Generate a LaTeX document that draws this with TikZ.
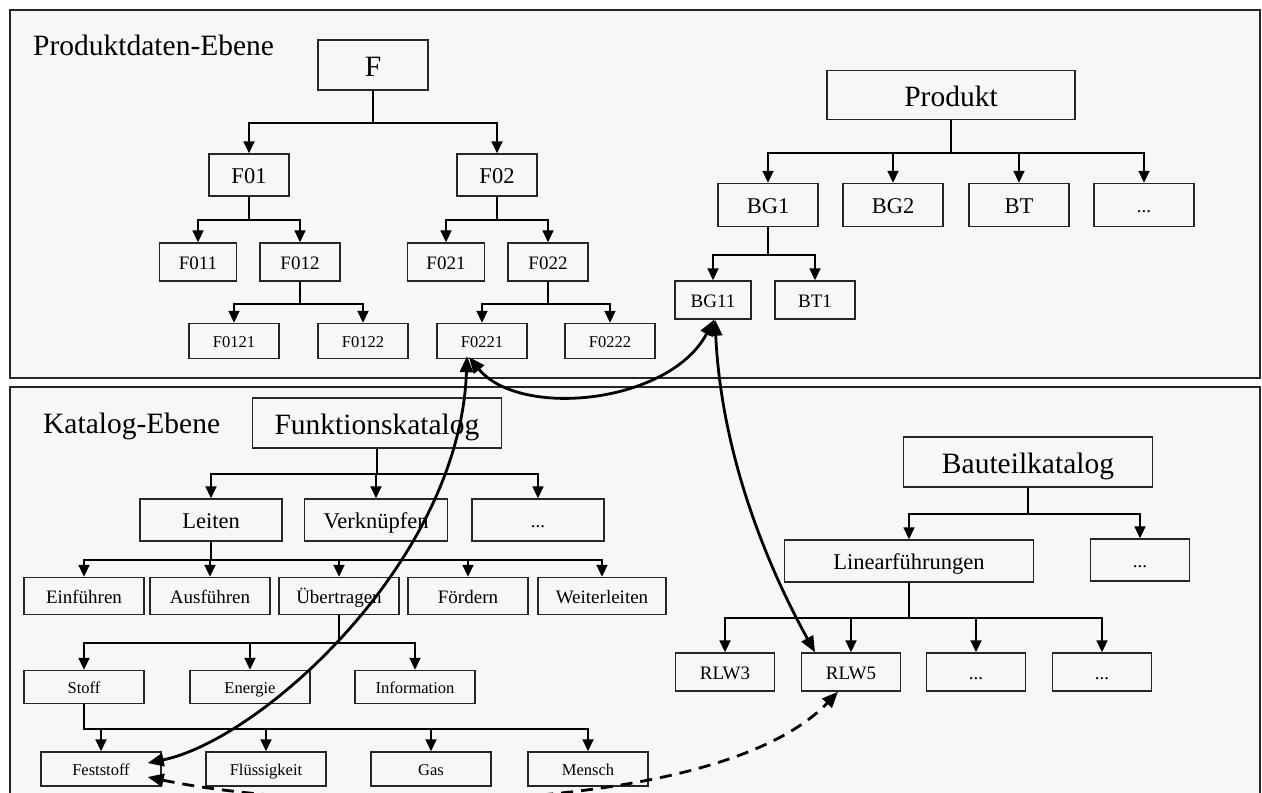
\documentclass[tikz,border=0pt]{standalone}
\usepackage{fontspec}
\setmainfont{Liberation Serif}
\usetikzlibrary{arrows.meta}
\definecolor{panelbg}{RGB}{247,247,247}
\begin{document}
\begin{tikzpicture}[x=1pt,y=-1pt,
  box/.style={draw=black!85,line width=1.4pt,fill=panelbg,inner sep=0pt},
  fa/.style={font=\fontsize{29.5}{33}\selectfont,text height=23pt,text depth=0pt},
  fb/.style={font=\fontsize{22.5}{26}\selectfont,text height=17.5pt,text depth=0pt},
  fc/.style={font=\fontsize{19}{22}\selectfont,text height=14.5pt,text depth=0pt},
  fd/.style={font=\fontsize{16.5}{19}\selectfont,text height=12pt,text depth=0pt},
  tree/.style={line width=1.8pt,-{Triangle[length=12pt,width=11pt]}},
  link/.style={line width=2.8pt,{Triangle[length=16pt,width=13pt]}-{Triangle[length=16pt,width=13pt]}}]
\useasboundingbox (0,0) rectangle (1262,793);
\clip (0,0) rectangle (1262,793);
% the two levels
\draw[black!85,line width=1.8pt,fill=panelbg] (10,10) rectangle (1260,378);
\draw[black!85,line width=1.8pt,fill=panelbg] (10,387) rectangle (1260,820);
\node[font=\fontsize{29.5}{33}\selectfont,anchor=base west,inner sep=0pt] (produktlabel) at (33,55) {Produktdaten-Ebene};
\node[font=\fontsize{29.5}{33}\selectfont,anchor=base west,inner sep=0pt] (kataloglabel) at (43,433) {Katalog-Ebene};
% functions of the product
\node[box,fa,minimum width=110pt,minimum height=50pt] (F) at (373,65) {F};
\node[box,fb,minimum width=80pt,minimum height=42pt] (F01) at (249,175) {F01};
\node[box,fb,minimum width=80pt,minimum height=42pt] (F02) at (497,175) {F02};
\node[box,fc,minimum width=77pt,minimum height=38pt] (F011) at (198,262) {F011};
\node[box,fc,minimum width=80pt,minimum height=38pt] (F012) at (300,262) {F012};
\node[box,fc,minimum width=77pt,minimum height=38pt] (F021) at (446,262) {F021};
\node[box,fc,minimum width=80pt,minimum height=38pt] (F022) at (548,262) {F022};
\node[box,fd,minimum width=90pt,minimum height=35pt] (F0121) at (234,341) {F0121};
\node[box,fd,minimum width=90pt,minimum height=35pt] (F0122) at (363,341) {F0122};
\node[box,fd,minimum width=90pt,minimum height=35pt] (F0221) at (482,341) {F0221};
\node[box,fd,minimum width=90pt,minimum height=35pt] (F0222) at (610,341) {F0222};
\draw[tree] (F.south) -- ++(0,32) -| (F01.north);
\draw[tree] (F.south) -- ++(0,32) -| (F02.north);
\draw[tree] (F01.south) -- ++(0,23) -| (F011.north);
\draw[tree] (F01.south) -- ++(0,23) -| (F012.north);
\draw[tree] (F02.south) -- ++(0,23) -| (F021.north);
\draw[tree] (F02.south) -- ++(0,23) -| (F022.north);
\draw[tree] (F012.south) -- ++(0,22) -| (F0121.north);
\draw[tree] (F012.south) -- ++(0,22) -| (F0122.north);
\draw[tree] (F022.south) -- ++(0,22) -| (F0221.north);
\draw[tree] (F022.south) -- ++(0,22) -| (F0222.north);
% structure of the product
\node[box,fa,minimum width=248pt,minimum height=49pt] (produkt) at (951,95) {Produkt};
\node[box,fb,minimum width=100pt,minimum height=43pt] (BG1) at (768,205) {BG1};
\node[box,fb,minimum width=100pt,minimum height=43pt] (BG2) at (893,205) {BG2};
\node[box,fb,minimum width=100pt,minimum height=43pt] (BT) at (1019,205) {BT};
\node[box,fc,minimum width=100pt,minimum height=43pt] (pdots) at (1144,205) {...};
\node[box,fc,minimum width=76pt,minimum height=38pt] (BG11) at (713,300) {BG11};
\node[box,fc,minimum width=80pt,minimum height=38pt] (BT1) at (815,300) {BT1};
\draw[tree] (produkt.south) -- ++(0,33) -| (BG1.north);
\draw[tree] (produkt.south) -- ++(0,33) -| (BG2.north);
\draw[tree] (produkt.south) -- ++(0,33) -| (BT.north);
\draw[tree] (produkt.south) -- ++(0,33) -| (pdots.north);
\draw[tree] (BG1.south) -- ++(0,28) -| (BG11.north);
\draw[tree] (BG1.south) -- ++(0,28) -| (BT1.north);
% function catalogue
\node[box,fa,minimum width=249pt,minimum height=50pt] (fkatalog) at (377,423) {Funktionskatalog};
\node[box,fb,minimum width=142pt,minimum height=42pt] (leiten) at (211,520) {Leiten};
\node[box,fb,minimum width=143pt,minimum height=42pt] (verknuepfen) at (376,520) {Verknüpfen};
\node[box,fc,minimum width=132pt,minimum height=42pt] (fdots) at (538,520) {...};
\node[box,fc,minimum width=120pt,minimum height=37pt] (einfuehren) at (84,596) {Einführen};
\node[box,fc,minimum width=120pt,minimum height=37pt] (ausfuehren) at (210,596) {Ausführen};
\node[box,fc,minimum width=120pt,minimum height=37pt] (uebertragen) at (339,596) {Übertragen};
\node[box,fc,minimum width=120pt,minimum height=37pt] (foerdern) at (468,596) {Fördern};
\node[box,fc,minimum width=128pt,minimum height=37pt] (weiterleiten) at (602,596) {Weiterleiten};
\node[box,fd,minimum width=120pt,minimum height=33pt] (stoff) at (84,687) {Stoff};
\node[box,fd,minimum width=120pt,minimum height=33pt] (energie) at (250,687) {Energie};
\node[box,fd,minimum width=120pt,minimum height=33pt] (information) at (415,687) {Information};
\node[box,fd,minimum width=120pt,minimum height=34pt] (feststoff) at (101,769) {Feststoff};
\node[box,fd,minimum width=120pt,minimum height=34pt] (fluessigkeit) at (266,769) {Flüssigkeit};
\node[box,fd,minimum width=120pt,minimum height=34pt] (gas) at (431,769) {Gas};
\node[box,fd,minimum width=120pt,minimum height=34pt] (mensch) at (588,769) {Mensch};
\draw[tree] (fkatalog.south) -- ++(0,25) -| (leiten.north);
\draw[tree] (fkatalog.south) -- ++(0,25) -| (verknuepfen.north);
\draw[tree] (fkatalog.south) -- ++(0,25) -| (fdots.north);
\draw[tree] (leiten.south) -- ++(0,18) -| (einfuehren.north);
\draw[tree] (leiten.south) -- ++(0,18) -| (ausfuehren.north);
\draw[tree] (leiten.south) -- ++(0,18) -| (uebertragen.north);
\draw[tree] (leiten.south) -- ++(0,18) -| (foerdern.north);
\draw[tree] (leiten.south) -- ++(0,18) -| (weiterleiten.north);
\draw[tree] (uebertragen.south) -- ++(0,28) -| (stoff.north);
\draw[tree] (uebertragen.south) -- ++(0,28) -| (energie.north);
\draw[tree] (uebertragen.south) -- ++(0,28) -| (information.north);
\draw[tree] (stoff.south) -- ++(0,25) -| (feststoff.north);
\draw[tree] (stoff.south) -- ++(0,25) -| (fluessigkeit.north);
\draw[tree] (stoff.south) -- ++(0,25) -| (gas.north);
\draw[tree] (stoff.south) -- ++(0,25) -| (mensch.north);
% component catalogue
\node[box,fa,minimum width=249pt,minimum height=50pt] (bkatalog) at (1028,462) {Bauteilkatalog};
\node[box,fb,minimum width=249pt,minimum height=42pt] (linear) at (909,561) {Linearführungen};
\node[box,fc,minimum width=99pt,minimum height=42pt] (bdots) at (1140,560) {...};
\node[box,fc,minimum width=99pt,minimum height=38pt] (RLW3) at (725,672) {RLW3};
\node[box,fc,minimum width=99pt,minimum height=38pt] (RLW5) at (851,672) {RLW5};
\node[box,fc,minimum width=99pt,minimum height=38pt] (rdotsa) at (976,672) {...};
\node[box,fc,minimum width=99pt,minimum height=38pt] (rdotsb) at (1102,672) {...};
\draw[tree] (bkatalog.south) -- ++(0,26) -| (linear.north);
\draw[tree] (bkatalog.south) -- ++(0,26) -| (bdots.north);
\draw[tree] (linear.south) -- ++(0,35) -| (RLW3.north);
\draw[tree] (linear.south) -- ++(0,35) -| (RLW5.north);
\draw[tree] (linear.south) -- ++(0,35) -| (rdotsa.north);
\draw[tree] (linear.south) -- ++(0,35) -| (rdotsb.north);
% links between the levels
\draw[link] ([xshift=-13pt,yshift=2pt]F0221.south) .. controls +(51,62) and +(-44,84) .. ([xshift=1pt]BG11.south);
\draw[link] ([xshift=-15pt,yshift=3pt]F0221.south) .. controls +(-7,205) and +(113,-23) .. ([xshift=-14pt,yshift=6pt]feststoff.east);
\draw[link] ([xshift=2pt]BG11.south) .. controls +(7,151) and +(-35,-63) .. ([xshift=-36pt]RLW5.north);
\draw[link,dash pattern=on 12pt off 8pt] ([xshift=-14pt,yshift=-8pt]feststoff.east) .. controls +(183,38) and +(-118,124) .. ([xshift=-13pt]RLW5.south);
\end{tikzpicture}
\end{document}
